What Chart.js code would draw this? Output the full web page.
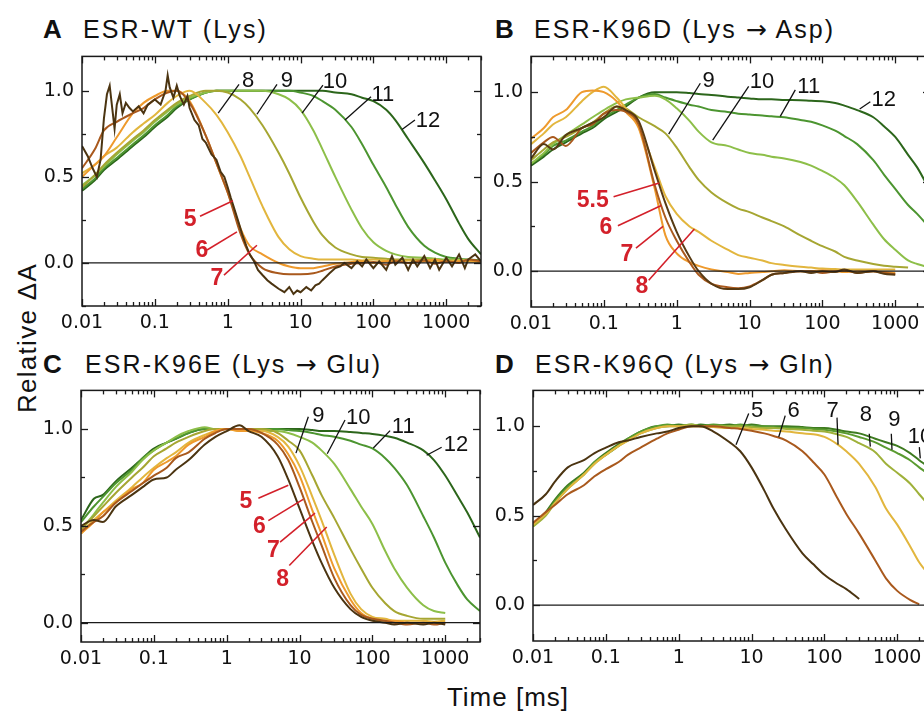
<!DOCTYPE html>
<html>
<head>
<meta charset="utf-8">
<script src="https://cdn.jsdelivr.net/npm/chart.js@4.4.1/dist/chart.umd.min.js"></script>
<style>
  html, body { margin: 0; padding: 0; background: #fff; overflow: hidden; }
  body { width: 924px; height: 711px; position: relative; font-family: "Liberation Sans", Arial, sans-serif; color: #111; }
  canvas { position: absolute; }
  .txt { position: absolute; white-space: nowrap; font-size: 25px; line-height: 25px; }
  .letter { font-weight: bold; font-size: 26px; }
  .title { letter-spacing: 2.1px; }
  .arr { font-family: "DejaVu Sans", sans-serif; letter-spacing: 1px; }
  .axis { font-size: 26px; line-height: 26px; }
</style>
</head>
<body>
<div class="txt letter" style="left:43px; top:17px;">A</div>
<div class="txt title" style="left:83px; top:17px;">ESR-WT (Lys)</div>
<div class="txt letter" style="left:495px; top:17px;">B</div>
<div class="txt title" style="left:534px; top:17px;">ESR-K96D (Lys <span class="arr">→</span> Asp)</div>
<div class="txt letter" style="left:43px; top:352px;">C</div>
<div class="txt title" style="left:85px; top:352px;">ESR-K96E (Lys <span class="arr">→</span> Glu)</div>
<div class="txt letter" style="left:495px; top:352px;">D</div>
<div class="txt title" style="left:535px; top:352px;">ESR-K96Q (Lys <span class="arr">→</span> Gln)</div>
<div class="txt axis" style="left:27px; top:338px; letter-spacing:1.3px; transform:translate(-50%,-50%) rotate(-90deg);">Relative ΔA</div>
<div class="txt axis" style="left:508px; top:697px; letter-spacing:1px; transform:translate(-50%,-50%);">Time [ms]</div>

<canvas id="panelA"></canvas>
<canvas id="panelB"></canvas>
<canvas id="panelC"></canvas>
<canvas id="panelD"></canvas>

<script>
// shared time axis (ms) and tick labels
const TIME = [0.01, 0.015, 0.02, 0.03, 0.05, 0.07, 0.1, 0.15, 0.2, 0.3, 0.5, 0.7, 1, 1.5, 2, 3, 5, 7, 10, 15, 20, 30, 50, 70, 100, 150, 200, 300, 500, 700, 1000, 1500, 2000, 3000];
const decadeTicks = [0.01, 0.1, 1, 10, 100, 1000];
const decadeLabels = ['0.01', '0.1', '1', '10', '100', '1000'];
const yTicks = [0, 0.5, 1];

// A: ESR-WT, pH 5 is noisy so it has its own time points
const wtTime5 = [0.01,0.012,0.014,0.016,0.018,0.02,0.022,0.024,0.026,0.028,0.03,0.033,0.036,0.04,0.045,0.05,0.06,0.07,0.08,0.1,0.12,0.14,0.15,0.16,0.18,0.2,0.22,0.25,0.28,0.3,0.35,0.4,0.45,0.5,0.6,0.7,0.8,0.9,1,1.1,1.2,1.4,1.6,1.8,2,2.3,2.6,3,3.5,4,5,6,7,8,9,10,12,14,16,18,20,25,30,35,40,50,60,70,80,100,120,150,180,200,250,300,350,400,500,600,700,800,1000,1200,1500,1800,2000,2500,3000];
const wtPH5 = [0.68,0.62,0.55,0.50,0.60,0.84,0.98,1.03,0.90,0.78,0.92,0.98,0.87,0.93,0.90,0.88,0.91,0.87,0.92,0.95,0.92,1.0,1.09,1.02,0.96,1.03,0.97,0.92,0.97,0.90,0.83,0.80,0.72,0.70,0.63,0.60,0.53,0.50,0.44,0.38,0.33,0.24,0.16,0.10,0.05,0.01,-0.04,-0.07,-0.10,-0.12,-0.15,-0.17,-0.14,-0.18,-0.16,-0.17,-0.14,-0.16,-0.13,-0.12,-0.10,-0.06,-0.03,-0.02,0.0,-0.03,0.01,-0.02,0.02,-0.03,0.01,-0.04,0.04,-0.01,0.03,-0.04,0.02,-0.02,0.04,-0.03,0.02,-0.04,0.03,-0.02,0.05,-0.03,0.02,0.05,0.01];
const wtPH6 = [0.55,0.66,0.77,0.82,0.87,0.90,0.95,0.99,1.0,0.93,0.74,0.58,0.41,0.17,0.05,-0.03,-0.06,-0.065,-0.065,-0.06,-0.045,-0.02,-0.005,0.0,0.005,-0.01,0.01,0.0,0.015,-0.005,0.01,0.0,0.02,0.01];
const wtPH7 = [0.50,0.57,0.62,0.73,0.87,0.93,0.97,1.0,1.0,0.94,0.74,0.58,0.41,0.20,0.10,0.05,0.0,-0.02,-0.03,-0.03,-0.02,-0.005,0.005,0.01,0.0,0.01,0.015,0.0,0.01,0.02,0.005,0.01,0.015,0.01];
const wtPH8 = [0.52,0.57,0.62,0.67,0.76,0.81,0.86,0.93,0.97,1.0,0.93,0.86,0.76,0.62,0.50,0.33,0.15,0.08,0.04,0.025,0.02,0.02,0.02,0.015,0.02,0.015,0.01,0.015,0.01,0.01,0.01,0.015,0.01,0.005];
const wtPH9 = [0.44,0.51,0.57,0.64,0.72,0.77,0.83,0.89,0.93,0.97,1.0,1.0,0.99,0.95,0.90,0.80,0.64,0.52,0.38,0.24,0.16,0.09,0.05,0.035,0.03,0.025,0.02,0.02,0.02,0.015,0.015,0.01,0.01,0.01];
const wtPH10 = [0.45,0.51,0.56,0.63,0.71,0.76,0.82,0.88,0.92,0.96,0.99,1.0,1.0,1.0,1.0,1.0,0.98,0.95,0.89,0.77,0.66,0.50,0.31,0.20,0.12,0.07,0.05,0.035,0.03,0.025,0.02,0.02,0.015,0.01];
const wtPH11 = [0.43,0.49,0.55,0.61,0.69,0.74,0.80,0.86,0.91,0.95,0.99,1.0,1.0,1.0,1.0,1.0,1.0,1.0,0.99,0.97,0.94,0.89,0.79,0.69,0.57,0.44,0.34,0.21,0.10,0.06,0.035,0.025,0.02,0.015];
const wtPH12 = [0.42,0.48,0.54,0.60,0.68,0.73,0.79,0.85,0.90,0.95,0.99,1.0,1.0,1.0,1.0,1.0,1.0,1.0,1.0,1.0,1.0,0.99,0.98,0.96,0.94,0.89,0.83,0.72,0.58,0.48,0.37,0.23,0.14,0.05];

// B: ESR-K96D
const k96dPH55 = [0.63,0.71,0.68,0.76,0.80,0.83,0.86,0.92,0.90,0.84,0.56,0.38,0.22,0.08,0.0,-0.07,-0.10,-0.10,-0.09,-0.05,-0.02,-0.01,0.0,-0.01,0.0,-0.005,0.01,-0.01,0.0,-0.015,-0.02,null,null,null];
const k96dPH6 = [0.66,0.72,0.75,0.70,0.80,0.82,0.88,0.90,0.89,0.82,0.48,0.30,0.17,0.05,-0.02,-0.07,-0.09,-0.095,-0.085,-0.05,-0.02,-0.01,0.0,0.0,-0.01,0.0,0.005,-0.01,0.0,-0.01,-0.015,null,null,null];
const k96dPH7 = [0.74,0.80,0.86,0.90,1.0,1.01,1.0,0.95,0.89,0.80,0.46,0.20,0.10,0.05,0.03,0.01,-0.005,-0.015,-0.01,-0.005,0.0,0.005,0.0,0.0,0.005,0.0,-0.005,0.0,0.0,-0.005,-0.01,null,null,null];
const k96dPH8 = [0.71,0.77,0.82,0.86,0.95,1.0,1.03,0.97,0.91,0.81,0.58,0.42,0.32,0.25,0.22,0.17,0.12,0.09,0.075,0.06,0.045,0.035,0.025,0.02,0.015,0.012,0.01,0.01,0.01,0.01,0.01,null,null,null];
const k96dPH9 = [0.62,0.68,0.72,0.75,0.80,0.83,0.88,0.92,0.91,0.86,0.81,0.77,0.69,0.58,0.51,0.44,0.38,0.35,0.33,0.30,0.28,0.25,0.20,0.17,0.14,0.11,0.08,0.06,0.04,0.03,0.025,0.02,null,null];
const k96dPH10 = [0.60,0.66,0.71,0.76,0.82,0.86,0.90,0.94,0.96,0.97,0.98,0.96,0.91,0.84,0.78,0.72,0.70,0.68,0.66,0.65,0.64,0.63,0.61,0.59,0.56,0.52,0.48,0.39,0.26,0.18,0.12,0.06,0.04,0.02];
const k96dPH11 = [0.60,0.65,0.70,0.73,0.78,0.81,0.86,0.90,0.93,0.97,0.99,0.97,0.95,0.93,0.92,0.90,0.89,0.88,0.875,0.87,0.865,0.86,0.845,0.835,0.815,0.785,0.755,0.71,0.62,0.54,0.46,0.37,0.32,0.24];
const k96dPH12 = [0.59,0.64,0.68,0.72,0.77,0.80,0.85,0.89,0.92,0.97,1.0,1.0,1.0,0.995,0.99,0.985,0.975,0.97,0.965,0.96,0.96,0.957,0.955,0.952,0.95,0.94,0.925,0.90,0.86,0.81,0.75,0.65,0.58,0.45];

// C: ESR-K96E
const k96ePH5 = [0.50,0.53,0.52,0.60,0.66,0.70,0.74,0.75,0.79,0.84,0.92,0.96,0.99,1.02,0.99,0.96,0.86,0.74,0.59,0.42,0.31,0.18,0.07,0.03,0.01,0.0,-0.01,0.0,-0.01,0.0,-0.01,null,null,null];
const k96ePH6 = [0.47,0.52,0.55,0.62,0.68,0.72,0.76,0.80,0.85,0.88,0.95,0.98,1.0,1.0,1.0,0.98,0.92,0.84,0.70,0.52,0.40,0.23,0.09,0.04,0.02,0.01,0.0,-0.01,0.0,-0.01,0.0,null,null,null];
const k96ePH7 = [0.46,0.52,0.57,0.62,0.69,0.72,0.79,0.83,0.86,0.92,0.96,0.99,1.0,0.99,0.99,0.98,0.94,0.87,0.76,0.58,0.46,0.28,0.12,0.05,0.02,0.01,0.01,0.0,0.0,0.0,0.0,null,null,null];
const k96ePH8 = [0.46,0.53,0.57,0.63,0.70,0.75,0.80,0.85,0.88,0.93,0.97,0.99,1.0,0.99,0.99,0.99,0.96,0.91,0.81,0.65,0.53,0.35,0.15,0.07,0.03,0.02,0.01,0.01,0.01,0.005,0.01,null,null,null];
const k96ePH9 = [0.48,0.55,0.60,0.67,0.75,0.80,0.86,0.90,0.93,0.96,0.99,1.0,1.0,1.0,1.0,1.0,0.98,0.94,0.89,0.76,0.66,0.54,0.38,0.28,0.18,0.10,0.06,0.035,0.02,0.02,0.02,null,null,null];
const k96ePH10 = [0.48,0.56,0.62,0.70,0.78,0.84,0.89,0.93,0.96,0.99,1.01,1.0,1.0,1.0,1.0,0.99,0.99,0.98,0.96,0.93,0.89,0.82,0.69,0.60,0.51,0.37,0.28,0.18,0.09,0.06,0.05,null,null,null];
const k96ePH11 = [0.52,0.60,0.65,0.72,0.79,0.85,0.89,0.93,0.95,0.98,1.0,1.0,1.0,1.0,1.0,1.0,1.0,0.995,0.99,0.98,0.97,0.96,0.94,0.92,0.90,0.85,0.80,0.71,0.55,0.44,0.31,0.19,0.12,0.06];
const k96ePH12 = [0.53,0.64,0.66,0.73,0.80,0.85,0.90,0.93,0.95,0.98,1.0,1.0,1.0,1.0,1.0,1.0,1.0,1.0,1.0,0.995,0.99,0.99,0.985,0.98,0.975,0.965,0.955,0.93,0.89,0.84,0.76,0.65,0.57,0.44];

// D: ESR-K96Q
const k96qPH5 = [0.56,0.62,0.69,0.77,0.81,0.85,0.88,0.91,0.92,0.94,0.96,0.97,0.99,1.0,1.0,0.97,0.91,0.86,0.77,0.64,0.54,0.42,0.29,0.23,0.17,0.12,0.09,0.035,null,null,null,null,null,null];
const k96qPH6 = [0.46,0.52,0.56,0.62,0.67,0.72,0.76,0.80,0.84,0.88,0.93,0.96,0.98,1.0,1.0,1.0,0.99,0.985,0.975,0.96,0.945,0.92,0.86,0.80,0.73,0.60,0.51,0.40,0.25,0.15,0.08,0.03,0.005,null];
const k96qPH7 = [0.45,0.51,0.57,0.65,0.73,0.79,0.84,0.89,0.92,0.96,0.99,1.0,1.0,1.0,1.0,0.995,0.99,0.99,0.985,0.98,0.975,0.97,0.96,0.955,0.94,0.90,0.86,0.79,0.66,0.54,0.45,0.33,0.24,0.15];
const k96qPH8 = [0.44,0.50,0.57,0.65,0.73,0.79,0.84,0.89,0.92,0.96,0.99,1.0,1.0,1.01,1.0,1.0,1.0,1.0,0.995,0.99,0.99,0.985,0.98,0.975,0.97,0.955,0.94,0.905,0.855,0.79,0.74,0.68,0.62,0.54];
const k96qPH9 = [0.45,0.51,0.58,0.66,0.73,0.80,0.84,0.89,0.93,0.97,1.0,1.01,1.0,1.01,1.0,1.01,1.0,1.01,1.0,1.0,0.995,0.99,0.99,0.985,0.98,0.97,0.96,0.94,0.91,0.88,0.85,0.81,0.77,0.72];
const k96qPH10 = [0.44,0.52,0.59,0.67,0.74,0.80,0.85,0.90,0.93,0.97,1.0,1.0,1.01,1.0,1.01,1.0,1.01,1.0,1.01,1.0,1.0,1.0,0.995,0.99,0.99,0.98,0.97,0.96,0.93,0.91,0.89,0.85,0.81,0.76];

// pH labels: [time, value] of text centre and leader ends
const notesA = [
  { text: '8', at: [1.9, 1.066], from: [1.43, 1.038], to: [0.74, 0.870] },
  { text: '9', at: [6.5, 1.066], from: [4.75, 1.038], to: [2.52, 0.864] },
  { text: '10', at: [29.7, 1.055], from: [20.3, 1.033], to: [10.5, 0.870] },
  { text: '11', at: [135, 0.982], from: [92.7, 0.965], to: [40.7, 0.831] },
  { text: '12', at: [561, 0.831], from: [372, 0.831], to: [247, 0.775] },
  { text: '5', red: true, at: [0.304, 0.260], from: [0.417, 0.271], to: [1.18, 0.361] },
  { text: '6', red: true, at: [0.444, 0.075], from: [0.52, 0.075], to: [1.34, 0.181] },
  { text: '7', red: true, at: [0.713, -0.087], from: [0.889, -0.071], to: [2.52, 0.103] }
];
const notesB = [
  { text: '9', at: [2.75, 1.067], from: [2.11, 1.050], to: [0.776, 0.766] },
  { text: '10', at: [14.8, 1.062], from: [9.73, 1.032], to: [3.12, 0.732] },
  { text: '11', at: [64.9, 1.037], from: [42.5, 1.013], to: [26.4, 0.865] },
  { text: '12', at: [693, 0.965], from: [455, 0.947], to: [325, 0.906] },
  { text: '5.5', red: true, at: [0.0703, 0.398], from: [0.136, 0.416], to: [0.577, 0.493] },
  { text: '6', red: true, at: [0.107, 0.247], from: [0.156, 0.254], to: [0.615, 0.367] },
  { text: '7', red: true, at: [0.208, 0.098], from: [0.276, 0.129], to: [0.649, 0.251] },
  { text: '8', red: true, at: [0.334, -0.081], from: [0.413, -0.051], to: [1.75, 0.236] }
];
const notesC = [
  { text: '9', at: [18.1, 1.075], from: [13.2, 1.064], to: [8.93, 0.876] },
  { text: '10', at: [64, 1.064], from: [42.1, 1.047], to: [24, 0.873] },
  { text: '11', at: [265, 1.014], from: [175, 0.992], to: [103, 0.902] },
  { text: '12', at: [1406, 0.922], from: [893, 0.906], to: [556, 0.865] },
  { text: '5', red: true, at: [1.84, 0.632], from: [2.72, 0.643], to: [7.01, 0.710] },
  { text: '6', red: true, at: [2.81, 0.499], from: [3.73, 0.527], to: [11.2, 0.637] },
  { text: '7', red: true, at: [4.36, 0.375], from: [5.4, 0.416], to: [16.3, 0.566] },
  { text: '8', red: true, at: [5.87, 0.229], from: [7.23, 0.295], to: [23.6, 0.494] }
];
const notesD = [
  { text: '5', at: [11.9, 1.089], from: [9.14, 1.071], to: [6.12, 0.897] },
  { text: '6', at: [37.9, 1.089], from: [29, 1.059], to: [23.6, 0.940] },
  { text: '7', at: [130, 1.089], from: [149, 1.048], to: [154, 0.897] },
  { text: '8', at: [372, 1.066], from: [413, 0.958], to: [427, 0.886] },
  { text: '9', at: [912, 1.040], from: [829, 0.958], to: [847, 0.868] },
  { text: '10', at: [2050, 0.947], from: [2009, 0.883], to: [2071, 0.820] }
];

const RED = '#d3202a';
const colors = {
  ph5: '#4b3411', ph55: '#573a13', ph6: '#a9591d', ph7: '#ee9a2d', ph8: '#e2b63e',
  ph9: '#a6a632', ph10: '#8dbf49', ph11: '#4c9530', ph12: '#2c661b',
  q8: '#9fb13a', q9: '#5a9b30', q10: '#3e7b20'
};

function curve(times, values, color, noisy) {
  return {
    data: times.map((t, i) => ({ x: t, y: values[i] })),
    borderColor: color,
    borderWidth: 2,
    pointRadius: 0,
    fill: false,
    tension: 0,
    cubicInterpolationMode: noisy ? 'default' : 'monotone'
  };
}

// inward ticks on all four sides, the frame and the zero line
const frameTicks = {
  id: 'frameTicks',
  afterDatasetsDraw(chart) {
    const { ctx, chartArea: a, scales: { x, y } } = chart;
    const seg = (x1, y1, x2, y2) => { ctx.beginPath(); ctx.moveTo(x1, y1); ctx.lineTo(x2, y2); ctx.stroke(); };
    ctx.save();
    ctx.strokeStyle = '#1a1a1a';
    ctx.lineWidth = 1.3;
    const y0 = y.getPixelForValue(0);
    seg(a.left, y0, a.right, y0);
    decadeTicks.forEach(d => {
      for (let k = 1; k < 10; k++) {
        const v = d * k;
        if (v > x.max) break;
        const px = Math.round(x.getPixelForValue(v)) + 0.5;
        const len = k === 1 ? 7 : 4;
        seg(px, a.bottom, px, a.bottom - len);
        seg(px, a.top, px, a.top + len);
      }
    });
    for (let v = -0.25; v <= 1.001; v += 0.25) {
      if (v < y.min || v > y.max) continue;
      const py = Math.round(y.getPixelForValue(v)) + 0.5;
      const len = Math.abs(v * 2 - Math.round(v * 2)) < 1e-6 ? 7 : 4;
      seg(a.left, py, a.left + len, py);
      seg(a.right, py, a.right - len, py);
    }
    ctx.lineWidth = 1.5;
    ctx.strokeRect(a.left, a.top, a.right - a.left, a.bottom - a.top);
    ctx.restore();
  }
};

// pH number labels with leader lines
const phLabels = {
  id: 'phLabels',
  afterDatasetsDraw(chart, args, opts) {
    const { ctx, scales: { x, y } } = chart;
    const pt = p => [x.getPixelForValue(p[0]), y.getPixelForValue(p[1])];
    ctx.save();
    ctx.textAlign = 'center';
    ctx.textBaseline = 'middle';
    (opts.items || []).forEach(it => {
      const c = it.red ? RED : '#111';
      const [x1, y1] = pt(it.from), [x2, y2] = pt(it.to), [tx, ty] = pt(it.at);
      ctx.strokeStyle = c;
      ctx.lineWidth = it.red ? 1.6 : 1.3;
      ctx.beginPath(); ctx.moveTo(x1, y1); ctx.lineTo(x2, y2); ctx.stroke();
      ctx.fillStyle = c;
      ctx.font = it.red ? 'bold 23px "Liberation Sans", Arial' : '22px "Liberation Sans", Arial';
      ctx.fillText(it.text, tx, ty + 1);
    });
    ctx.restore();
  }
};

function makePanel(id, frame, yMin, yMax, datasets, notes) {
  const cv = document.getElementById(id);
  const padL = 70, padT = 10, padR = 10, padB = 35;
  cv.width = frame.w + padL + padR;
  cv.height = frame.h + padT + padB;
  cv.style.left = (frame.left - padL) + 'px';
  cv.style.top = (frame.top - padT) + 'px';
  const tickFont = { family: '"DejaVu Sans", sans-serif', size: 19 };
  new Chart(cv, {
    type: 'line',
    data: { datasets },
    options: {
      responsive: false,
      animation: false,
      events: [],
      layout: { padding: { left: 0, top: padT, right: padR, bottom: 0 } },
      plugins: { legend: { display: false }, tooltip: { enabled: false }, phLabels: { items: notes } },
      scales: {
        x: {
          type: 'logarithmic', min: 0.01, max: 3000,
          grid: { display: false, drawTicks: false },
          border: { display: false },
          afterBuildTicks: s => { s.ticks = decadeTicks.map(v => ({ value: v })); },
          afterFit: s => { s.height = padB; },
          ticks: { color: '#111', font: tickFont, padding: 6, autoSkip: false, maxRotation: 0,
                   callback: (v, i) => decadeLabels[i] }
        },
        y: {
          min: yMin, max: yMax,
          grid: { display: false, drawTicks: false },
          border: { display: false },
          afterBuildTicks: s => { s.ticks = yTicks.map(v => ({ value: v })); },
          afterFit: s => { s.width = padL; },
          ticks: { color: '#111', font: tickFont, padding: 8, callback: v => v.toFixed(1) }
        }
      }
    },
    plugins: [frameTicks, phLabels]
  });
}

makePanel('panelA', { left: 82, top: 47, w: 399, h: 259 }, -0.25, 1.2, [
  curve(wtTime5, wtPH5, colors.ph5, true),
  curve(TIME, wtPH6, colors.ph6),
  curve(TIME, wtPH7, colors.ph7),
  curve(TIME, wtPH8, colors.ph8),
  curve(TIME, wtPH9, colors.ph9),
  curve(TIME, wtPH10, colors.ph10),
  curve(TIME, wtPH11, colors.ph11),
  curve(TIME, wtPH12, colors.ph12)
], notesA);

makePanel('panelB', { left: 531, top: 47, w: 399, h: 260 }, -0.2, 1.2, [
  curve(TIME, k96dPH55, colors.ph55),
  curve(TIME, k96dPH6, colors.ph6),
  curve(TIME, k96dPH7, colors.ph7),
  curve(TIME, k96dPH8, colors.ph8),
  curve(TIME, k96dPH9, colors.ph9),
  curve(TIME, k96dPH10, colors.ph10),
  curve(TIME, k96dPH11, colors.ph11),
  curve(TIME, k96dPH12, colors.ph12)
], notesB);

makePanel('panelC', { left: 81, top: 381, w: 399, h: 261 }, -0.1, 1.2, [
  curve(TIME, k96ePH5, colors.ph5),
  curve(TIME, k96ePH6, colors.ph6),
  curve(TIME, k96ePH7, colors.ph7),
  curve(TIME, k96ePH8, colors.ph8),
  curve(TIME, k96ePH9, colors.ph9),
  curve(TIME, k96ePH10, colors.ph10),
  curve(TIME, k96ePH11, colors.ph11),
  curve(TIME, k96ePH12, colors.ph12)
], notesC);

makePanel('panelD', { left: 533, top: 381, w: 399, h: 260 }, -0.2, 1.2, [
  curve(TIME, k96qPH5, colors.ph5),
  curve(TIME, k96qPH6, colors.ph6),
  curve(TIME, k96qPH7, colors.ph8),
  curve(TIME, k96qPH8, colors.q8),
  curve(TIME, k96qPH9, colors.q9),
  curve(TIME, k96qPH10, colors.q10)
], notesD);
</script>
</body>
</html>
